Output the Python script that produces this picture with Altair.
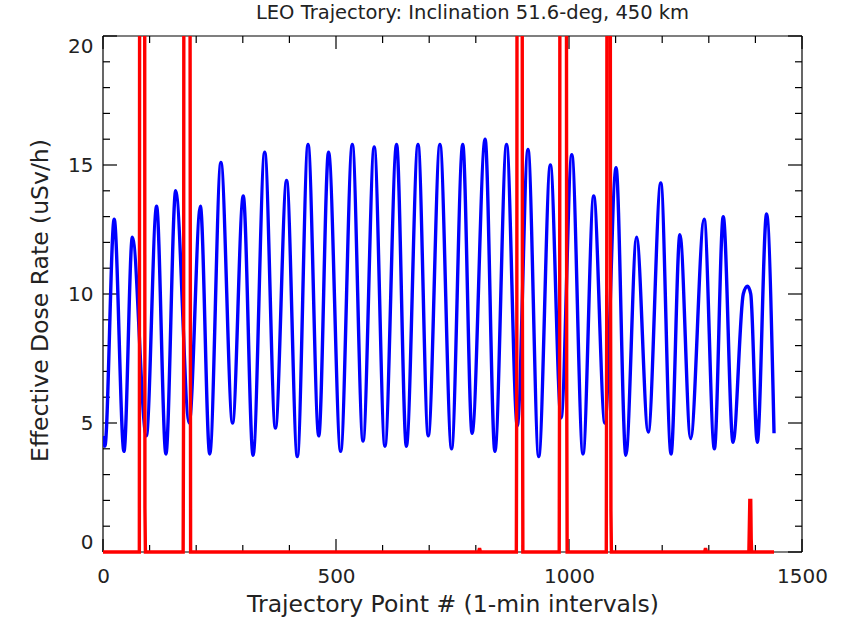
import altair as alt
import pandas as pd

# ---------------- data ----------------
BLUE_X = [0, 4, 24, 45, 63, 93, 115, 135, 156, 185, 209, 229, 253, 278, 301, 322,
          347, 370, 394, 417, 440, 463, 484, 510, 535, 558, 582, 605, 630, 651,
          676, 698, 723, 748, 772, 792, 820, 841, 866, 889, 912, 935, 960, 983,
          1006, 1030, 1053, 1077, 1101, 1122, 1145, 1170, 1197, 1219, 1238, 1261,
          1290, 1312, 1331, 1352, 1374, 1383, 1390, 1404, 1424, 1440]
BLUE_Y = [4.5, 4.1, 12.9, 3.9, 12.2, 4.5, 13.4, 3.8, 14.0, 5.0, 13.4, 3.8, 15.1, 5.0, 13.8, 3.75,
          15.5, 4.8, 14.4, 3.7, 15.8, 4.5, 15.5, 3.9, 15.8, 4.3, 15.7, 4.1, 15.8, 4.1,
          15.8, 4.5, 15.8, 4.0, 15.8, 4.6, 16.0, 3.9, 15.8, 4.9, 15.6, 3.7, 15.0, 5.2,
          15.4, 3.8, 13.8, 5.0, 14.9, 3.75, 12.2, 4.65, 14.3, 3.8, 12.3, 4.4,
          12.9, 4.0, 13.0, 4.25, 10.0, 10.3, 10.0, 4.25, 13.1, 4.6]

RED_X = [0, 78, 79, 89, 90, 91, 172, 173, 174, 186, 187, 188, 806, 808, 810,
         887, 888, 889, 899, 900, 901, 979, 980, 981, 994, 995, 996,
         1080, 1081, 1082, 1088, 1089, 1090, 1091, 1291, 1293, 1295,
         1386, 1387, 1388, 1390, 1391, 1392, 1440]
RED_Y = [0, 0, 40, 40, 1.7, 0, 0, 6.3, 40, 40, 17.5, 0, 0, 0.15, 0,
         0, 7.9, 40, 40, 9.7, 0, 0, 8.9, 40, 40, 7.2, 0,
         0, 10.3, 40, 40, 12.5, 1.6, 0, 0, 0.15, 0,
         0, 1.0, 2.0, 2.0, 0.5, 0, 0]

X_MAJOR = [0, 500, 1000, 1500]
X_MINOR = [100, 200, 300, 400, 600, 700, 800, 900, 1100, 1200, 1300, 1400]
Y_MAJOR = [0, 5, 10, 15, 20]
Y_MINOR = [1, 2, 3, 4, 6, 7, 8, 9, 11, 12, 13, 14, 16, 17, 18, 19]

TITLE = "LEO Trajectory: Inclination 51.6-deg, 450 km"
X_TITLE = "Trajectory Point # (1-min intervals)"
Y_TITLE = "Effective Dose Rate (uSv/h)"

# ---------------- layout ----------------
W = 699          # plot width
H = 516          # plot height (scale range)
EXTRA = 3        # room so the red baseline is not clipped
FONT = "DejaVu Sans"
TXT = "#222222"

blue_df = pd.DataFrame({"x": BLUE_X, "y": BLUE_Y})
red_df = pd.DataFrame({"x": RED_X, "y": RED_Y})

xs = alt.Scale(domain=[0, 1500], nice=False, zero=False)
ys = alt.Scale(domain=[0, 20], range=[H, 0], nice=False, zero=False)

XAX = alt.Axis(
    values=X_MAJOR, format="d", ticks=False, domain=False, grid=False,
    labelFontSize=20, labelFont=FONT, labelColor=TXT, labelPadding=21,
    labelBaseline="middle", labelFlush=False,
    title=X_TITLE, titleFontSize=23.5, titleFont=FONT, titleColor=TXT,
    titleFontWeight="normal", titleY=49, titleBaseline="middle")
YAX = alt.Axis(
    values=Y_MAJOR, format="d", ticks=False, domain=False, grid=False,
    labelFontSize=20, labelFont=FONT, labelColor=TXT, labelPadding=10,
    labelFlush=True,
    title=Y_TITLE, titleFontSize=23.5, titleFont=FONT, titleColor=TXT,
    titleFontWeight="normal", titleX=-63, titleY=H / 2 + 6, titleBaseline="middle")


def X(field):
    return alt.X(field, scale=xs, axis=XAX)


def Y(field):
    return alt.Y(field, scale=ys, axis=YAX)


blue = alt.Chart(blue_df).mark_line(
    color="#0000ff", strokeWidth=3.4, interpolate="monotone", clip=True
).encode(x=X("x:Q"), y=Y("y:Q"))

red = alt.Chart(red_df).mark_line(
    color="#ff0000", strokeWidth=3.4, clip=True
).encode(x=X("x:Q"), y=Y("y:Q"))

# box frame (axis limits)
frame_df = pd.DataFrame({"x": [0, 0, 0, 1500], "x2": [1500, 1500, 0, 1500],
                         "y": [0, 20, 0, 0], "y2": [0, 20, 20, 20]})
frame = alt.Chart(frame_df).mark_rule(color="black", strokeWidth=1.2).encode(
    x=X("x:Q"), x2="x2:Q", y=Y("y:Q"), y2="y2:Q")


def xticks(vals, length):
    d = pd.DataFrame({"x": vals})
    base = alt.Chart(d).mark_rule(color="black", strokeWidth=1.2)
    bot = base.encode(x=X("x:Q"), y=alt.value(H), y2=alt.value(H - length))
    top = base.encode(x=X("x:Q"), y=alt.value(0), y2=alt.value(length))
    return [bot, top]


def yticks(vals, length):
    d = pd.DataFrame({"y": vals})
    base = alt.Chart(d).mark_rule(color="black", strokeWidth=1.2)
    left = base.encode(y=Y("y:Q"), x=alt.value(0), x2=alt.value(length))
    right = base.encode(y=Y("y:Q"), x=alt.value(W), x2=alt.value(W - length))
    return [left, right]


layers = [frame] + xticks(X_MAJOR, 13) + xticks(X_MINOR, 7) + \
    yticks(Y_MAJOR, 14) + yticks(Y_MINOR, 7) + [blue, red]

chart = alt.layer(*layers).properties(
    width=W, height=H + EXTRA,
    title=alt.TitleParams(TITLE, fontSize=19.5, font=FONT, fontWeight="normal",
                          color=TXT, anchor="middle", dx=20, offset=12),
    autosize=alt.AutoSizeParams(type="none"),
    padding={"left": 103, "top": 36, "right": 40, "bottom": 65},
    background="white",
).configure_view(stroke=None)

chart.save("out.html", embed_options={"renderer": "svg", "actions": False})
